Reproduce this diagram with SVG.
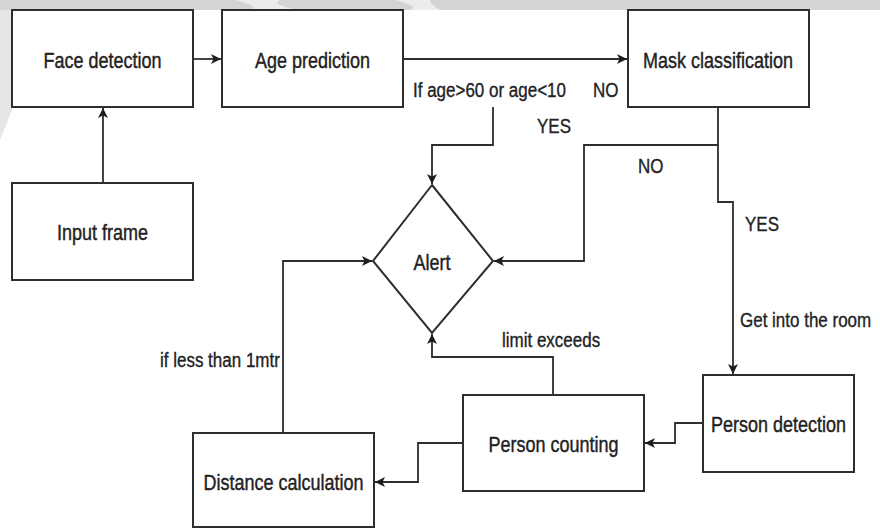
<svg xmlns="http://www.w3.org/2000/svg" width="880" height="529" viewBox="0 0 880 529">
<defs>
<marker id="arr" viewBox="0 0 10 10" refX="10" refY="5" markerWidth="10" markerHeight="10" markerUnits="userSpaceOnUse" orient="auto">
<path d="M0,0 L10,5 L0,10 L2.5,5 Z" fill="#1e1e1e"/>
</marker>
<style>
.box{fill:#fff;stroke:#2e2e2e;stroke-width:2}
.lbl{font-family:"Liberation Sans",Arial,sans-serif;font-size:18px;fill:#222;stroke:#222;stroke-width:0.35;text-anchor:middle}
.edge{fill:none;stroke:#2e2e2e;stroke-width:1.8}
.el{font-family:"Liberation Sans",Arial,sans-serif;font-size:17px;fill:#222;stroke:#222;stroke-width:0.3}
</style>
</defs>
<rect width="880" height="529" fill="#fff"/>
<g id="watermark">
<rect x="0" y="0" width="880" height="10" fill="#d4d4d4"/>
<path d="M235,0 Q260,6 250,10 L300,10 Q270,5 280,0 Z" fill="#ececec"/>
<path d="M395,0 Q420,6 410,10 L440,10 Q430,4 430,0 Z" fill="#ececec"/>
<polygon points="0,10 12,10 12,110 0,140" fill="#e6e6e6"/>
</g>
<g id="connectors">
<path class="edge" d="M103,183 V108" marker-end="url(#arr)"/>
<path class="edge" d="M193,59 H221" marker-end="url(#arr)"/>
<path class="edge" d="M403,59 H627" marker-end="url(#arr)"/>
<path class="edge" d="M493,107 V145 H432 V184" marker-end="url(#arr)"/>
<path class="edge" d="M718,107 V145 H584 V261 H494" marker-end="url(#arr)"/>
<path class="edge" d="M718,145 V202 H733 V374" marker-end="url(#arr)"/>
<path class="edge" d="M703,423 H675 V443 H645" marker-end="url(#arr)"/>
<path class="edge" d="M553,395 V357 H432 V334" marker-end="url(#arr)"/>
<path class="edge" d="M463,443 H418 V482 H375" marker-end="url(#arr)"/>
<path class="edge" d="M283,433 V261 H372" marker-end="url(#arr)"/>
<text class="el" transform="translate(413,97) scale(1,1.15)">If age&gt;60 or age&lt;10</text>
<text class="el" transform="translate(593,97) scale(1,1.15)">NO</text>
<text class="el" transform="translate(537,133) scale(1,1.15)">YES</text>
<text class="el" transform="translate(638,173) scale(1,1.15)">NO</text>
<text class="el" transform="translate(745,231) scale(1,1.15)">YES</text>
<text class="el" transform="translate(740,327) scale(1,1.15)">Get into the room</text>
<text class="el" transform="translate(502,347) scale(1,1.15)">limit exceeds</text>
<text class="el" transform="translate(160,367) scale(1,1.15)">if less than 1mtr</text>
</g>
<g id="face-detection">
<rect class="box" x="12" y="10" width="181" height="97"/>
<text class="lbl" transform="translate(102.5,68) scale(1,1.2)">Face detection</text>
</g>
<g id="age-prediction">
<rect class="box" x="222" y="10" width="181" height="97"/>
<text class="lbl" transform="translate(312.5,68) scale(1,1.2)">Age prediction</text>
</g>
<g id="mask-classification">
<rect class="box" x="628" y="10" width="181" height="97"/>
<text class="lbl" transform="translate(718,68) scale(1,1.2)">Mask classification</text>
</g>
<g id="input-frame">
<rect class="box" x="12" y="183" width="181" height="97"/>
<text class="lbl" transform="translate(102.5,240) scale(1,1.2)">Input frame</text>
</g>
<g id="alert">
<polygon class="box" points="432,185 493,261 432,333 373,261"/>
<text class="lbl" transform="translate(432,270) scale(1,1.2)">Alert</text>
</g>
<g id="person-detection">
<rect class="box" x="703" y="375" width="151" height="97"/>
<text class="lbl" transform="translate(778.5,432) scale(1,1.2)">Person detection</text>
</g>
<g id="person-counting">
<rect class="box" x="463" y="395" width="181" height="96"/>
<text class="lbl" transform="translate(553.5,452) scale(1,1.2)">Person counting</text>
</g>
<g id="distance-calculation">
<rect class="box" x="193" y="433" width="181" height="94"/>
<text class="lbl" transform="translate(283.5,490) scale(1,1.2)">Distance calculation</text>
</g>
</svg>
